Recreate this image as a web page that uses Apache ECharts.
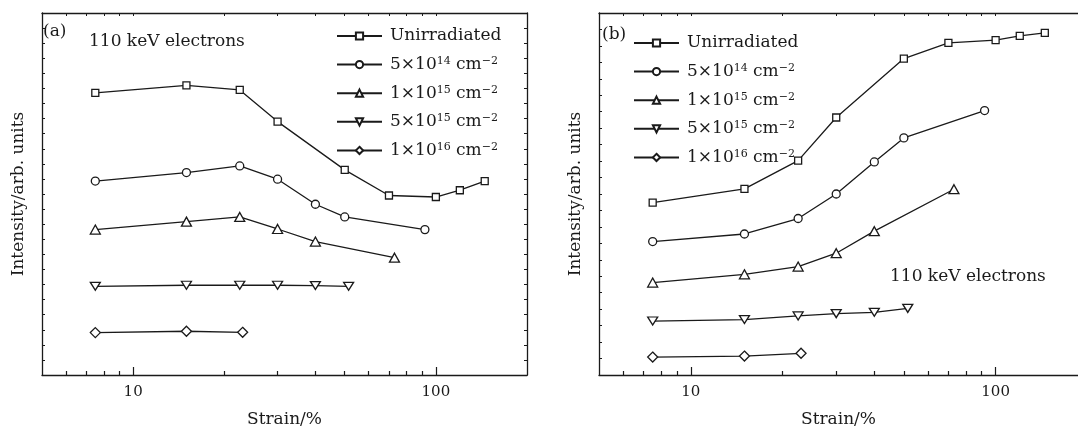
<!DOCTYPE html>
<html>
<head>
<meta charset="utf-8">
<script src="https://cdn.jsdelivr.net/npm/echarts@6/dist/echarts.min.js"></script>
<style>
  html, body { margin: 0; padding: 0; background: #fff; }
  #grafico { width: 1078px; height: 428px; }
</style>
</head>
<body>
<div id="grafico"></div>
<script>
// series names (^ marks superscript)
const nomes = ['Unirradiated', '5×10^14 cm^−2', '1×10^15 cm^−2', '5×10^15 cm^−2', '1×10^16 cm^−2']

// panel (a)
const strainA0 = [7.5, 15, 22.5, 30, 50, 70, 100, 120, 145]
const intensA0 = [18.7, 19.2, 18.9, 16.8, 13.6, 11.9, 11.8, 12.25, 12.85]
const strainA1 = [7.5, 15, 22.5, 30, 40, 50, 92]
const intensA1 = [12.86, 13.42, 13.86, 12.98, 11.32, 10.48, 9.64]
const strainA2 = [7.5, 15, 22.5, 30, 40, 73]
const intensA2 = [9.64, 10.17, 10.48, 9.68, 8.85, 7.78]
const strainA3 = [7.5, 15, 22.5, 30, 40, 51.5]
const intensA3 = [5.88, 5.95, 5.95, 5.95, 5.93, 5.88]
const strainA4 = [7.5, 15, 23]
const intensA4 = [2.81, 2.9, 2.83]

// panel (b)
const strainB0 = [7.5, 15, 22.5, 30, 50, 70, 100, 120, 145]
const intensB0 = [10.48, 11.31, 13.03, 15.65, 19.23, 20.18, 20.35, 20.61, 20.79]
const strainB1 = [7.5, 15, 22.5, 30, 40, 50, 92]
const intensB1 = [8.11, 8.57, 9.51, 11.0, 12.95, 14.41, 16.07]
const strainB2 = [7.5, 15, 22.5, 30, 40, 73]
const intensB2 = [5.62, 6.12, 6.59, 7.4, 8.74, 11.29]
const strainB3 = [7.5, 15, 22.5, 30, 40, 51.5]
const intensB3 = [3.28, 3.37, 3.59, 3.73, 3.81, 4.05]
const strainB4 = [7.5, 15, 23]
const intensB4 = [1.09, 1.15, 1.32]

// x ticks
const ticksMaiores = [10, 100]
const ticksMenores = [6, 7, 8, 9, 20, 30, 40, 50, 60, 70, 80, 90]

const fonte = 'DejaVu Serif'
const preto = '#1a1a1a'

const simbolos = [
  { symbol: 'rect', size: 7 },
  { symbol: 'circle', size: 8 },
  { symbol: 'triangle', size: [10, 9] },
  { symbol: 'path://M0,0L10,0L5,8.66Z', size: [10, 8] },
  { symbol: 'diamond', size: [10, 10] },
]

function montarSerie(i, strain, intens, xIdx, yIdx) {
  return {
    name: nomes[i],
    type: 'line',
    xAxisIndex: xIdx,
    yAxisIndex: yIdx,
    data: strain.map((s, k) => [s, intens[k]]),
    symbol: simbolos[i].symbol,
    symbolSize: simbolos[i].size,
    showAllSymbol: true,
    lineStyle: { color: preto, width: 1.3 },
    itemStyle: { color: '#fff', borderColor: preto, borderWidth: 1.3 },
    z: 3,
  }
}

function eixoX(grid, tipo, max) {
  let base = {
    type: 'log', logBase: 10, gridIndex: grid, min: 5, max: max,
    splitLine: { show: false },
    axisLine: { show: tipo !== 'menor', lineStyle: { color: preto, width: 1.3 } },
  }
  if (tipo === 'maior') {
    return Object.assign(base, {
      position: 'bottom',
      axisTick: { inside: true, length: 8, customValues: ticksMaiores, lineStyle: { color: preto, width: 1.2 } },
      axisLabel: { customValues: ticksMaiores, margin: 10, fontFamily: fonte, fontSize: 15, color: preto },
      name: 'Strain/%', nameLocation: 'middle', nameGap: 36,
      nameTextStyle: { fontFamily: fonte, fontSize: 17, color: preto },
    })
  }
  if (tipo === 'menor') {
    return Object.assign(base, {
      position: 'bottom',
      axisTick: { inside: true, length: 4, customValues: ticksMenores, lineStyle: { color: preto, width: 1.2 } },
      axisLabel: { show: false },
    })
  }
  return Object.assign(base, {
    position: 'top',
    axisTick: { inside: true, length: 3, customValues: ticksMenores.concat(ticksMaiores), lineStyle: { color: preto, width: 1 } },
    axisLabel: { show: false },
  })
}

function eixoY(grid, max, lado, linha) {
  let eixo = {
    type: 'value', gridIndex: grid, min: 0, max: max, interval: 1, position: lado,
    splitLine: { show: false },
    axisLine: { show: linha, lineStyle: { color: preto, width: 1.3 } },
    axisTick: { show: linha, inside: true, length: 3, lineStyle: { color: preto, width: 1 } },
    axisLabel: { show: false },
  }
  if (lado === 'left') {
    eixo.name = 'Intensity/arb. units'
    eixo.nameLocation = 'middle'
    eixo.nameGap = 15
    eixo.nameTextStyle = { fontFamily: fonte, fontSize: 17, color: preto }
  }
  return eixo
}

function legenda(left, top) {
  return {
    data: nomes,
    orient: 'vertical',
    left: left, top: top,
    itemWidth: 45, itemHeight: 9, itemGap: 10.6,
    padding: 0,
    selectedMode: false,
    formatter: (nome) => nome.replace(/\^(\S+)/g, '{s|$1}'),
    textStyle: {
      fontFamily: fonte, fontSize: 17, color: preto, lineHeight: 18,
      padding: [0, 0, 0, 3],
      rich: { s: { fontFamily: fonte, fontSize: 11, color: preto, verticalAlign: 'top', lineHeight: 7 } },
    },
  }
}

let myChart = echarts.init(document.getElementById('grafico'))

let series = [
  montarSerie(0, strainA0, intensA0, 0, 0),
  montarSerie(1, strainA1, intensA1, 0, 0),
  montarSerie(2, strainA2, intensA2, 0, 0),
  montarSerie(3, strainA3, intensA3, 0, 0),
  montarSerie(4, strainA4, intensA4, 0, 0),
  montarSerie(0, strainB0, intensB0, 3, 2),
  montarSerie(1, strainB1, intensB1, 3, 2),
  montarSerie(2, strainB2, intensB2, 3, 2),
  montarSerie(3, strainB3, intensB3, 3, 2),
  montarSerie(4, strainB4, intensB4, 3, 2),
]

// panel (b) is cut by the right edge of the figure
const maxA = 200
const maxB = 186.3

let option = {
  animation: false,
  backgroundColor: '#fff',
  textStyle: { fontFamily: fonte },
  grid: [
    { left: 42, top: 13, width: 485, height: 362, outerBoundsMode: 'none' },
    { left: 599, top: 13, width: 479, height: 362, outerBoundsMode: 'none' },
  ],
  xAxis: [
    eixoX(0, 'maior', maxA), eixoX(0, 'menor', maxA), eixoX(0, 'topo', maxA),
    eixoX(1, 'maior', maxB), eixoX(1, 'menor', maxB), eixoX(1, 'topo', maxB),
  ],
  yAxis: [
    eixoY(0, 24, 'left', true), eixoY(0, 24, 'right', true),
    eixoY(1, 22, 'left', true), eixoY(1, 22, 'right', false),
  ],
  legend: [legenda(336, 27), legenda(633, 34)],
  graphic: [
    { type: 'text', left: 43, top: 23, style: { text: '(a)', font: '17px "DejaVu Serif"', fill: preto } },
    { type: 'text', left: 89, top: 33, style: { text: '110 keV electrons', font: '17px "DejaVu Serif"', fill: preto } },
    { type: 'text', left: 602, top: 26, style: { text: '(b)', font: '17px "DejaVu Serif"', fill: preto } },
    { type: 'text', left: 890, top: 268, style: { text: '110 keV electrons', font: '17px "DejaVu Serif"', fill: preto } },
  ],
  series: series,
}

option && myChart.setOption(option)
</script>
</body>
</html>
